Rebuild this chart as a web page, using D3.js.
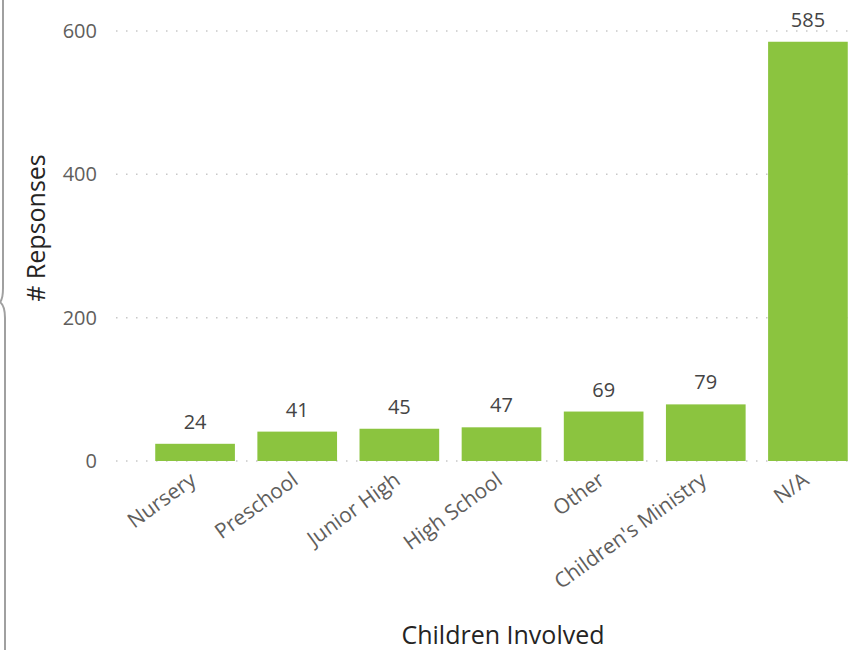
<!DOCTYPE html>
<html>
<head>
<meta charset="utf-8">
<script src="https://cdn.jsdelivr.net/npm/d3@7"></script>
<style>
  body { margin: 0; background: #fff; }
  text { font-family: "Segoe UI", "Open Sans", "Noto Sans", sans-serif; }
</style>
</head>
<body>
<div id="chart"></div>
<script>
// ==== Data ====
const categories = ["Nursery", "Preschool", "Junior High", "High School", "Other", "Children's Ministry", "N/A"];
const responses = [24, 41, 45, 47, 69, 79, 585];
const yTicks = [0, 200, 400, 600];

const W = 852, H = 650;
const svg = d3.select("#chart").append("svg")
    .attr("width", W)
    .attr("height", H);

// left panel edge bracket
svg.append("path")
    .attr("d", "M3,0 V288 Q3,299 0,302 Q5,306 5,318 V650")
    .attr("fill", "none")
    .attr("stroke", "#a0a0a0")
    .attr("stroke-width", 2);

const x = d3.scaleBand()
    .domain(categories)
    .range([144, 859])
    .paddingInner(0.22)
    .paddingOuter(0.11);

const y = d3.scaleLinear()
    .domain([0, 600])
    .range([461, 31]);

// gridlines
svg.append("g")
    .selectAll("line")
    .data(yTicks)
    .enter()
    .append("line")
    .attr("x1", 116)
    .attr("x2", 850)
    .attr("y1", d => y(d))
    .attr("y2", d => y(d))
    .attr("stroke", "#c8c8c8")
    .attr("stroke-width", 1.5)
    .attr("stroke-dasharray", "1.5,8.5");

// y tick labels
svg.append("g")
    .selectAll("text")
    .data(yTicks)
    .enter()
    .append("text")
    .attr("x", 97)
    .attr("y", d => y(d))
    .attr("dy", "0.35em")
    .attr("text-anchor", "end")
    .attr("fill", "#605e5c")
    .style("font-size", "20px")
    .text(d => d);

// bars
svg.append("g")
    .selectAll("rect")
    .data(responses)
    .enter()
    .append("rect")
    .attr("x", (d, i) => x(categories[i]))
    .attr("y", d => y(d))
    .attr("width", x.bandwidth())
    .attr("height", d => y(0) - y(d))
    .attr("fill", "#8bc43f");

// value labels
svg.append("g")
    .selectAll("text")
    .data(responses)
    .enter()
    .append("text")
    .attr("x", (d, i) => x(categories[i]) + x.bandwidth() / 2)
    .attr("y", d => y(d) - 15)
    .attr("text-anchor", "middle")
    .attr("fill", "#444")
    .style("font-size", "20px")
    .text(d => d);

// x labels
svg.append("g")
    .selectAll("text")
    .data(categories)
    .enter()
    .append("text")
    .attr("transform", d => `translate(${x(d) + x.bandwidth() / 2 - 2},${477}) rotate(-36)`)
    .attr("text-anchor", "end")
    .attr("dy", "0.35em")
    .attr("fill", "#605e5c")
    .style("font-size", "21px")
    .text(d => d);

// axis titles
svg.append("text")
    .attr("transform", "translate(45,228) rotate(-90)")
    .attr("text-anchor", "middle")
    .attr("fill", "#252423")
    .style("font-size", "25px")
    .text("# Repsonses");

svg.append("text")
    .attr("x", 503)
    .attr("y", 644)
    .attr("text-anchor", "middle")
    .attr("fill", "#252423")
    .style("font-size", "25px")
    .text("Children Involved");
</script>
</body>
</html>
